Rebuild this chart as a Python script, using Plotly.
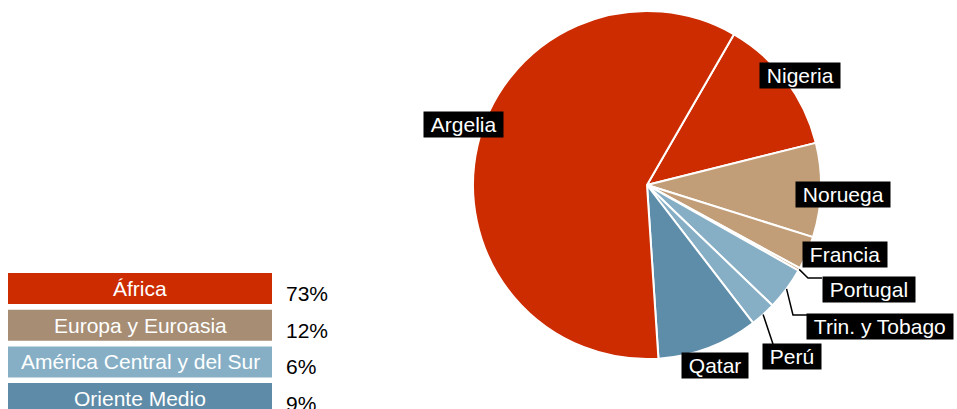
import math
import plotly.graph_objects as go

# slice data, in drawing order starting at the Argelia/Nigeria boundary
countries = ['Nigeria', 'Noruega', 'Francia', 'Portugal', 'Trin. y Tobago', 'Perú', 'Qatar', 'Argelia']
shares = [12.8, 8.75, 3.1, 0.25, 4.0, 2.4, 9.4, 59.5]
slice_colors = ['#CC2C00', '#C29E78', '#C29E78', '#C29E78', '#86AFC6', '#86AFC6', '#5E8DAA', '#CC2C00']

regions = ['África', 'Europa y Euroasia', 'América Central y del Sur', 'Oriente Medio']
region_pct = ['73%', '12%', '6%', '9%']
region_colors = ['#CC2C00', '#A68D74', '#86AFC6', '#5E8CA8']

W, H = 957, 409
CX, CY, R = 647, 185, 174
START = 30  # degrees clockwise from 12 o'clock
FONT = 'Liberation Sans, Arial'


def paper(x, y):
    return x / W, 1 - y / H


fig = go.Figure(go.Pie(
    labels=countries, values=shares, sort=False, direction='clockwise',
    rotation=START, textinfo='none', hoverinfo='label+percent',
    marker=dict(colors=slice_colors, line=dict(color='white', width=2)),
    domain=dict(x=[(CX - R) / W, (CX + R) / W], y=[1 - (CY + R) / H, 1 - (CY - R) / H]),
    showlegend=False,
))

# label boxes (pixel centres) and leader elbows
label_pos = {
    'Argelia': (463, 124), 'Nigeria': (800, 75), 'Noruega': (843, 194),
    'Francia': (845, 254), 'Portugal': (869, 289), 'Trin. y Tobago': (880, 326),
    'Perú': (792, 356), 'Qatar': (715, 365),
}
leaders = {
    'Portugal': [(808, 278), (822, 278)],
    'Trin. y Tobago': [(793, 315), (807, 315)],
    'Perú': [(773, 344)],
}

total = sum(shares)
angle = START
mids = {}
for c, v in zip(countries, shares):
    span = v / total * 360
    mids[c] = angle + span / 2
    angle += span

annotations = []
shapes = []
for c in countries:
    x, y = paper(*label_pos[c])
    annotations.append(dict(
        x=x, y=y, xref='paper', yref='paper', text='&nbsp;' + c + '&nbsp;',
        xanchor='center', yanchor='middle',
        showarrow=False, bgcolor='black', borderpad=1,
        font=dict(color='white', size=21, family=FONT),
    ))
    if c in leaders:
        a = math.radians(mids[c])
        pts = [(CX + R * math.sin(a), CY - R * math.cos(a))] + leaders[c]
        path = 'M ' + ' L '.join('%.4f,%.4f' % paper(px, py) for px, py in pts)
        shapes.append(dict(type='path', xref='paper', yref='paper', path=path,
                           line=dict(color='black', width=1.5)))

# custom legend on the left
top, step, hgt = 273, 36.7, 31
for i, (name, pct, col) in enumerate(zip(regions, region_pct, region_colors)):
    y0 = top + i * step
    x0p, y0p = paper(8, y0)
    x1p, y1p = paper(272, y0 + hgt)
    shapes.append(dict(type='rect', xref='paper', yref='paper', x0=x0p, x1=x1p,
                       y0=y1p, y1=y0p, fillcolor=col, line=dict(width=0)))
    tx, ty = paper(140, y0 + hgt / 2)
    annotations.append(dict(x=tx, y=ty, xref='paper', yref='paper', text=name,
                            xanchor='center', yanchor='middle', showarrow=False,
                            font=dict(color='white', size=21, family=FONT)))
    px_, py_ = paper(284, y0 + hgt / 2 + 5)
    annotations.append(dict(x=px_, y=py_, xref='paper', yref='paper', text=pct,
                            xanchor='left', yanchor='middle', showarrow=False,
                            font=dict(color='black', size=21, family=FONT)))

fig.update_layout(
    width=W, height=H, margin=dict(l=0, r=0, t=0, b=0),
    paper_bgcolor='white', plot_bgcolor='white',
    annotations=annotations, shapes=shapes,
)
fig.write_html("out.html", config={'displayModeBar': False},
               post_script="document.body.style.margin='0';")
